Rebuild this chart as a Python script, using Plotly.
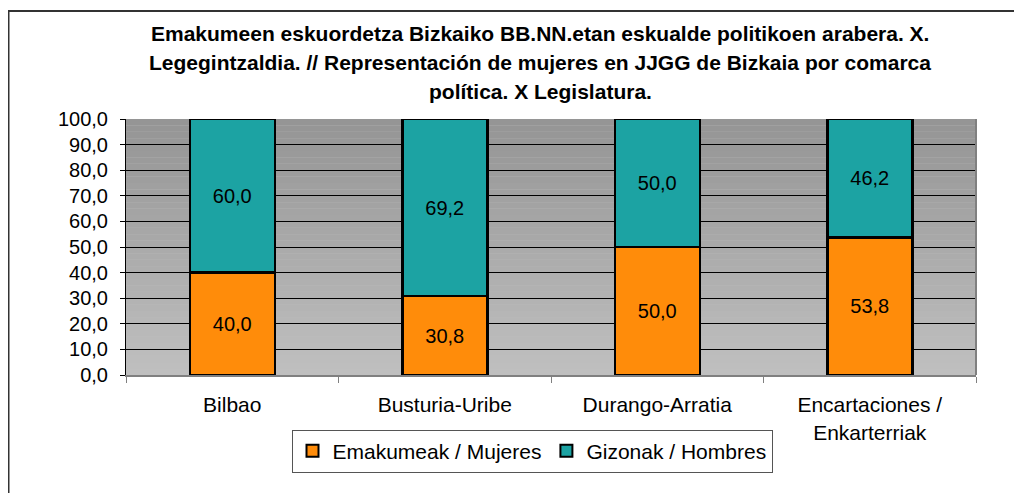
import plotly.graph_objects as go

categories = ["Bilbao", "Busturia-Uribe", "Durango-Arratia", "Encartaciones /<br>Enkarterriak"]
mujeres = [40.0, 30.8, 50.0, 53.8]
hombres = [60.0, 69.2, 50.0, 46.2]
series_names = ["Emakumeak / Mujeres", "Gizonak / Hombres"]
y_ticks = [0, 10, 20, 30, 40, 50, 60, 70, 80, 90, 100]
title_lines = [
    "Emakumeen eskuordetza Bizkaiko BB.NN.etan eskualde politikoen arabera. X.",
    "Legegintzaldia. // Representación de mujeres en JJGG de Bizkaia por comarca",
    "política. X Legislatura.",
]

W, H = 1022, 493
OFF = 8  # page body margin
SX0, SX1, SY0, SY1 = 126, 976, 119, 375
L = SX0 - OFF
R = W - (SX1 - OFF)
T = SY0 - OFF
B = H - (SY1 - OFF)
pw, ph = W - L - R, H - T - B

def sx(px):
    return (px - OFF - L) / pw

def sy(py):
    return (H - B - (py - OFF)) / ph

FONT = "Liberation Sans, Arial, sans-serif"

fig = go.Figure()
fig.add_trace(go.Bar(
    x=categories, y=mujeres, name=series_names[0],
    marker=dict(color="#FF8C0A", line=dict(color="#000000", width=2.5)),
    texttemplate="%{y:.1f}", textposition="inside", insidetextanchor="middle",
    textangle=0, constraintext="none",
    textfont=dict(family=FONT, size=20, color="#000000"),
))
fig.add_trace(go.Bar(
    x=categories, y=hombres, name=series_names[1],
    marker=dict(color="#1CA3A3", line=dict(color="#000000", width=2.5)),
    texttemplate="%{y:.1f}", textposition="inside", insidetextanchor="middle",
    textangle=0, constraintext="none",
    textfont=dict(family=FONT, size=20, color="#000000"),
))

shapes = []
n = 40
top_c = (0x94, 0x94, 0x94)
bot_c = (0xC0, 0xC0, 0xC0)
for i in range(n):
    t = (i + 0.5) / n
    c = tuple(int(round(bot_c[k] + (top_c[k] - bot_c[k]) * t)) for k in range(3))
    shapes.append(dict(
        type="rect", xref="paper", yref="paper",
        x0=0, x1=1, y0=i / n, y1=(i + 1) / n,
        fillcolor="rgb(%d,%d,%d)" % c, line=dict(width=0), layer="below",
    ))
shapes.append(dict(type="line", xref="paper", yref="paper", x0=1, x1=1, y0=0, y1=1,
                   line=dict(color="#808080", width=2)))
shapes.append(dict(type="rect", xref="paper", yref="paper",
                   x0=sx(8.5), x1=sx(1060),
                   y0=sy(540), y1=sy(11),
                   line=dict(color="#333333", width=2), fillcolor="rgba(0,0,0,0)"))

annotations = []
for line, py in zip(title_lines, [33, 62, 91]):
    annotations.append(dict(
        text="<b>%s</b>" % line, xref="paper", yref="paper",
        x=sx(540), y=sy(py),
        xanchor="center", yanchor="middle", showarrow=False,
        font=dict(family=FONT, size=21, color="#000000"),
    ))

fig.update_layout(
    width=W, height=H,
    margin=dict(l=L, r=R, t=T, b=B, autoexpand=False),
    paper_bgcolor="#FFFFFF", plot_bgcolor="#BFBFBF",
    barmode="stack", bargap=0.6,
    separators=",.",
    font=dict(family=FONT, size=20, color="#000000"),
    shapes=shapes, annotations=annotations,
    showlegend=True,
    legend=dict(
        orientation="h", xref="paper", yref="paper",
        x=sx(532), y=sy(451),
        xanchor="center", yanchor="middle",
        bgcolor="#FFFFFF", bordercolor="#555555", borderwidth=1,
        font=dict(family=FONT, size=21, color="#000000"),
        itemsizing="constant", traceorder="normal", itemwidth=30,
        tracegroupgap=0,
    ),
    xaxis=dict(
        type="category", showgrid=False, showline=True, linecolor="#808080", linewidth=2,
        ticks="outside", tickson="boundaries", ticklen=6, tickcolor="#808080", tickwidth=1,
        ticklabelstandoff=10, tickfont=dict(family=FONT, size=21, color="#000000"),
    ),
    yaxis=dict(
        range=[0, 100], tickvals=y_ticks, tickformat=".1f",
        showgrid=True, gridcolor="#000000", gridwidth=1, zeroline=False,
        showline=True, linecolor="#000000", linewidth=1,
        ticks="outside", ticklen=5, tickcolor="#000000",
        ticklabelstandoff=8, tickfont=dict(family=FONT, size=20, color="#000000"),
    ),
)

fig.write_html("out.html")
